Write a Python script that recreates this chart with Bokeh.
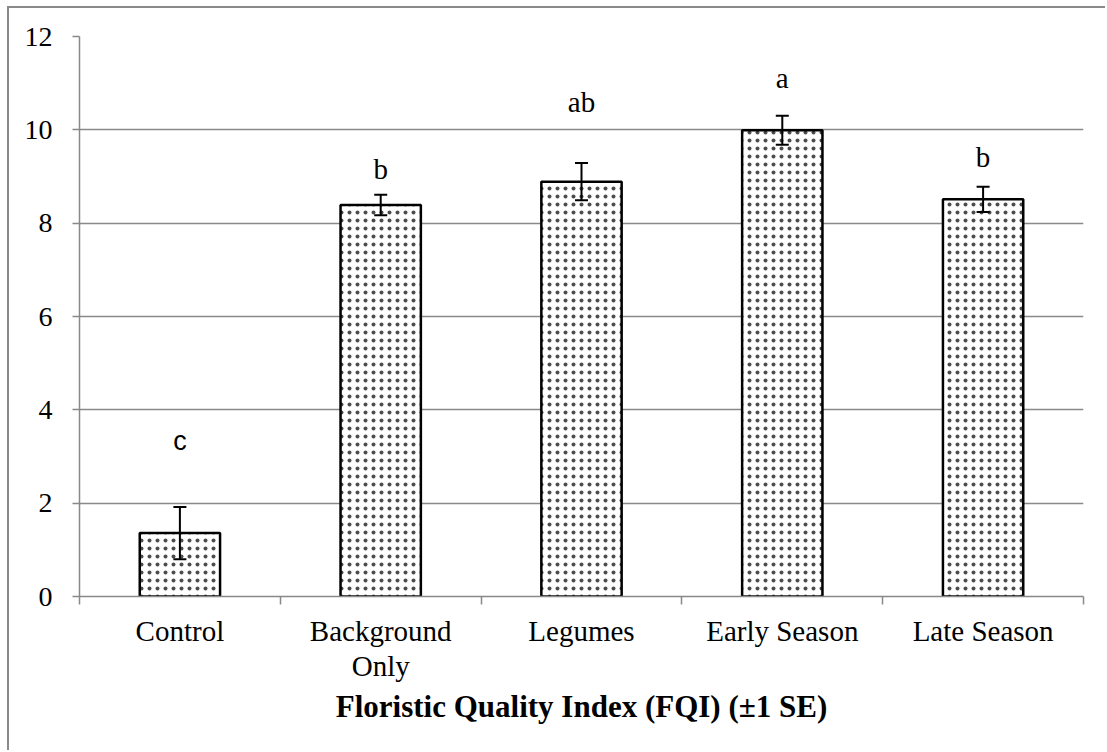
from bokeh.plotting import figure
from bokeh.models import ColumnDataSource, Whisker, TeeHead, FixedTicker, Range1d
from bokeh.embed import file_html
from bokeh.resources import INLINE

# ---- data ----
categories = ["Control", "Background\nOnly", "Legumes", "Early Season", "Late Season"]
fqi_mean = [1.36, 8.39, 8.89, 9.99, 8.51]
fqi_se = [0.56, 0.22, 0.40, 0.31, 0.27]
sig_letters = ["c", "b", "ab", "a", "b"]
letter_y = [3.34, 9.16, 10.59, 11.12, 9.41]
y_ticks = [0, 2, 4, 6, 8, 10, 12]
x_title = "Floristic Quality Index (FQI) (\u00b11 SE)"

n = len(categories)
xc = [i + 0.5 for i in range(n)]
src = ColumnDataSource(dict(
    x=xc, top=fqi_mean,
    upper=[m + s for m, s in zip(fqi_mean, fqi_se)],
    lower=[m - s for m, s in zip(fqi_mean, fqi_se)],
))
lab_src = ColumnDataSource(dict(
    x=xc, y=letter_y, t=sig_letters,
    font=["Liberation Sans" if t == "c" else "Liberation Serif" for t in sig_letters],
    size=["27px" if t == "c" else "29px" for t in sig_letters],
))

GRID = "#898989"
SERIF = "Liberation Serif"

p = figure(width=1098, height=744, x_range=Range1d(0, n), y_range=Range1d(0, 12),
           output_backend="svg", toolbar_location=None,
           min_border_left=70, min_border_right=24, min_border_top=28, min_border_bottom=156)
p.styles = {"margin-left": "7px", "margin-top": "6px",
            "border-left": "2px solid #8a8a8a", "border-top": "2px solid #8a8a8a"}
p.outline_line_color = None
p.background_fill_color = "white"
p.border_fill_color = "white"

# grid
p.xgrid.grid_line_color = None
p.ygrid.grid_line_color = GRID
p.ygrid.grid_line_width = 1.5
p.ygrid.ticker = FixedTicker(ticks=y_ticks)

# y axis
p.yaxis.ticker = FixedTicker(ticks=y_ticks)
p.yaxis.axis_line_color = GRID
p.yaxis.axis_line_width = 1.5
p.yaxis.major_tick_line_color = GRID
p.yaxis.major_tick_line_width = 1.5
p.yaxis.major_tick_in = 0
p.yaxis.major_tick_out = 7
p.yaxis.minor_tick_line_color = None
p.yaxis.major_label_text_font = SERIF
p.yaxis.major_label_text_font_size = "28px"
p.yaxis.major_label_text_color = "black"
p.yaxis.major_label_standoff = 20

# x axis: labels at centres, ticks at category boundaries
p.xaxis.ticker = FixedTicker(ticks=xc, minor_ticks=list(range(n + 1)))
p.xaxis.major_label_overrides = {x: c for x, c in zip(xc, categories)}
p.xaxis.major_tick_line_color = None
p.xaxis.minor_tick_line_color = GRID
p.xaxis.minor_tick_line_width = 1.5
p.xaxis.minor_tick_in = 0
p.xaxis.minor_tick_out = 8
p.xaxis.axis_line_color = GRID
p.xaxis.axis_line_width = 1.5
p.xaxis.major_label_text_font = SERIF
p.xaxis.major_label_text_font_size = "29px"
p.xaxis.major_label_text_line_height = 1.1
p.xaxis.major_label_text_color = "black"
p.xaxis.major_label_standoff = 10
p.xaxis.axis_label = x_title
p.xaxis.axis_label_text_font = SERIF
p.xaxis.axis_label_text_font_size = "31px"
p.xaxis.axis_label_text_font_style = "bold"
p.xaxis.axis_label_text_color = "black"
p.xaxis.axis_label_standoff = 4

# bars
p.vbar(x="x", top="top", bottom=0, width=0.4, source=src,
       fill_color="white", line_color="black", line_width=2.5,
       hatch_pattern="dot", hatch_color="black", hatch_alpha=0.7,
       hatch_scale=8, hatch_weight=1)

# error bars
p.add_layout(Whisker(base="x", upper="upper", lower="lower", source=src, level="overlay",
                     line_color="black", line_width=2,
                     upper_head=TeeHead(size=13, line_width=2, line_color="black"),
                     lower_head=TeeHead(size=13, line_width=2, line_color="black")))

# significance letters
p.text(x="x", y="y", text="t", source=lab_src, text_font="font",
       text_font_size="size", text_align="center", text_baseline="middle",
       text_color="black")

open("out.html", "w").write(file_html(p, INLINE))
